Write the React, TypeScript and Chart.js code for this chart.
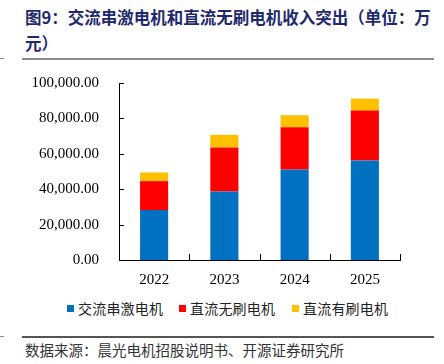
import React, { useEffect, useRef } from "react";
import { Chart, registerables } from "chart.js";

Chart.register(...registerables);

const categories = ["2022", "2023", "2024", "2025"];
const acSeriesMotor = [28200, 38750, 51150, 56200];
const dcBrushless = [16350, 24800, 23850, 28200];
const dcBrushed = [4900, 7150, 6800, 6800];
const seriesNames = ["交流串激电机", "直流无刷电机", "直流有刷电机"];
const seriesColors = ["#0070C0", "#FF0000", "#FFC000"];
const titleLine1 = "图9：交流串激电机和直流无刷电机收入突出（单位：万";
const titleLine2 = "元）";
const sourceText = "数据来源：晨光电机招股说明书、开源证券研究所";

const innerTicks = {
  id: "innerTicks",
  afterDraw(chart: any) {
    const { ctx, chartArea, scales } = chart;
    const y = scales.y;
    ctx.save();
    ctx.strokeStyle = "#000";
    ctx.lineWidth = 1;
    ctx.beginPath();
    y.ticks.forEach((_t: any, i: number) => {
      const py = Math.round(y.getPixelForTick(i)) + 0.5;
      ctx.moveTo(chartArea.left, py);
      ctx.lineTo(chartArea.left + 5, py);
    });
    const n = categories.length;
    const w = (chartArea.right - chartArea.left) / n;
    for (let i = 1; i <= n; i++) {
      const px = Math.round(chartArea.left + i * w) + 0.5;
      ctx.moveTo(px, chartArea.bottom);
      ctx.lineTo(px, chartArea.bottom - 6);
    }
    ctx.stroke();
    ctx.restore();
  },
};

export default function App() {
  const ref = useRef<HTMLCanvasElement | null>(null);
  useEffect(() => {
    if (!ref.current) return;
    const chart = new Chart(ref.current, {
      type: "bar",
      data: {
        labels: categories,
        datasets: [
          { label: seriesNames[0], data: acSeriesMotor, backgroundColor: seriesColors[0] },
          { label: seriesNames[1], data: dcBrushless, backgroundColor: seriesColors[1] },
          { label: seriesNames[2], data: dcBrushed, backgroundColor: seriesColors[2] },
        ],
      },
      options: {
        responsive: false,
        animation: false,
        layout: { padding: { top: 0, right: 44, left: 0, bottom: 0 } },
        plugins: { legend: { display: false }, tooltip: { enabled: false } },
        datasets: { bar: { barPercentage: 0.4, categoryPercentage: 1 } },
        scales: {
          x: {
            stacked: true,
            grid: { display: false },
            border: { display: true, color: "#000", width: 1 },
            ticks: { color: "#000", padding: 3, font: { family: "'Liberation Serif', serif", size: 15 } },
            afterFit: (s: any) => { s.height = 35; },
          },
          y: {
            stacked: true,
            min: 0,
            max: 100000,
            grid: { display: false },
            border: { display: true, color: "#000", width: 1 },
            ticks: {
              stepSize: 20000,
              color: "#000",
              padding: 12,
              font: { family: "'Liberation Serif', serif", size: 15 },
              callback: (v: any) =>
                Number(v).toLocaleString("en-US", { minimumFractionDigits: 2, maximumFractionDigits: 2 }),
            },
            afterFit: (s: any) => { s.width = 119; },
          },
        },
      },
      plugins: [innerTicks],
    });
    return () => chart.destroy();
  }, []);

  const cjk = "'Noto Sans CJK SC', sans-serif";
  const legendItem = (i: number, left: number) => (
    <div key={i} style={{ position: "absolute", left, top: 299, height: 18, display: "flex", alignItems: "center" }}>
      <span style={{ width: 7, height: 7, background: seriesColors[i], display: "inline-block", marginRight: 4 }} />
      <span style={{ fontFamily: cjk, fontSize: 14, color: "#222", letterSpacing: 0.2 }}>{seriesNames[i]}</span>
    </div>
  );

  return (
    <div style={{ position: "absolute", left: 0, top: 0, width: 444, height: 364, background: "#fff", overflow: "hidden" }}>
      <div style={{ position: "absolute", left: 25, top: 4, fontFamily: cjk, fontWeight: 700, fontSize: 16.5, color: "#1F2A6E", lineHeight: "26px", whiteSpace: "nowrap" }}>
        {titleLine1}
        <br />
        {titleLine2}
      </div>
      <div style={{ position: "absolute", left: 22, top: 58, width: 412, height: 2, background: "#8a8a8a" }} />
      <div style={{ position: "absolute", left: 0, top: 58, width: 4, height: 1, background: "#8a8a8a" }} />
      <canvas ref={ref} width={444} height={233} style={{ position: "absolute", left: 0, top: 62, width: 444, height: 233 }} />
      {legendItem(0, 67)}
      {legendItem(1, 179)}
      {legendItem(2, 292)}
      <div style={{ position: "absolute", left: 22, top: 336, width: 412, height: 1.5, background: "#555" }} />
      <div style={{ position: "absolute", left: 0, top: 336, width: 4, height: 1, background: "#8a8a8a" }} />
      <div style={{ position: "absolute", left: 25, top: 340, fontFamily: cjk, fontSize: 14.5, color: "#333", whiteSpace: "nowrap", lineHeight: "20px" }}>
        {sourceText}
      </div>
    </div>
  );
}
